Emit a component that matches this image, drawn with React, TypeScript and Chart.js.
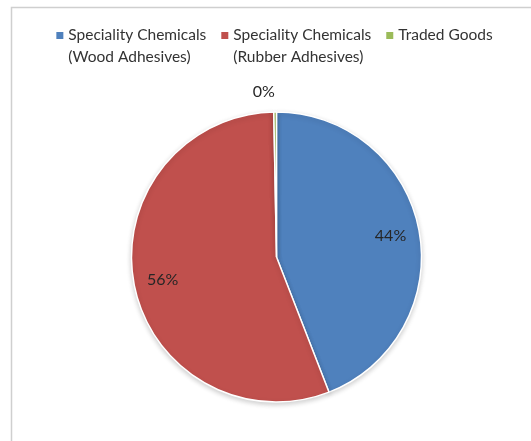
import React, { useEffect, useRef } from "react";
import { Chart, registerables } from "chart.js";

Chart.register(...registerables);

const categories: string[][] = [
  ["Speciality Chemicals", "(Wood Adhesives)"],
  ["Speciality Chemicals", "(Rubber Adhesives)"],
  ["Traded Goods"],
];
const shares: number[] = [44.1, 55.6, 0.3];
const colors: string[] = ["#4F81BD", "#C0504D", "#9BBB59"];

const FONT = "Lato, 'Open Sans', sans-serif";
const TEXT = "#333333";

const framePlugin = {
  id: "frame",
  beforeDraw(chart: any) {
    const ctx = chart.ctx;
    ctx.save();
    ctx.fillStyle = "#ffffff";
    ctx.fillRect(0, 0, chart.width, chart.height);
    ctx.strokeStyle = "#cfcfcf";
    ctx.lineWidth = 1.5;
    ctx.beginPath();
    ctx.moveTo(11.5, chart.height + 5);
    ctx.lineTo(11.5, 7.5);
    ctx.lineTo(chart.width + 5, 7.5);
    ctx.stroke();
    ctx.restore();
  },
};

// Legend drawn from the chart's labels and colours (multi-line items).
const legendPlugin = {
  id: "multiLineLegend",
  afterDraw(chart: any) {
    const ctx = chart.ctx;
    const labels = chart.data.labels as string[][];
    const bg = chart.data.datasets[0].backgroundColor as string[];
    const box = 7;
    const gap = 5;
    const spacing = 15;
    const lineH = 22;
    const firstBaseline = 40;
    ctx.save();
    ctx.font = `15.5px ${FONT}`;
    const widths = labels.map(
      (lines) => box + gap + Math.max(...lines.map((l) => ctx.measureText(l).width))
    );
    const total = widths.reduce((a, b) => a + b, 0) + spacing * (widths.length - 1);
    const centerX = (chart.chartArea.left + chart.chartArea.right) / 2 - 2;
    let x = centerX - total / 2;
    labels.forEach((lines, i) => {
      ctx.fillStyle = bg[i];
      ctx.fillRect(x, firstBaseline - 8, box, box);
      ctx.fillStyle = TEXT;
      ctx.textAlign = "left";
      ctx.textBaseline = "alphabetic";
      lines.forEach((l, j) => ctx.fillText(l, x + box + gap, firstBaseline + j * lineH));
      x += widths[i] + spacing;
    });
    ctx.restore();
  },
};

const shadowPlugin = {
  id: "pieShadow",
  beforeDatasetsDraw(chart: any) {
    const ctx = chart.ctx;
    ctx.save();
    ctx.shadowColor = "rgba(0,0,0,0.18)";
    ctx.shadowBlur = 5;
    ctx.shadowOffsetY = 2;
  },
  afterDatasetsDraw(chart: any) {
    chart.ctx.restore();
  },
};

const labelPlugin = {
  id: "sliceLabels",
  afterDatasetsDraw(chart: any) {
    const ctx = chart.ctx;
    const meta = chart.getDatasetMeta(0);
    const data = chart.data.datasets[0].data as number[];
    const total = data.reduce((a, b) => a + b, 0);
    ctx.save();
    ctx.font = `16px ${FONT}`;
    ctx.fillStyle = "#262626";
    ctx.textBaseline = "middle";
    meta.data.forEach((arc: any, i: number) => {
      const { x, y, startAngle, endAngle, outerRadius } = arc.getProps(
        ["x", "y", "startAngle", "endAngle", "outerRadius"],
        true
      );
      const mid = (startAngle + endAngle) / 2;
      const pct = Math.round((data[i] / total) * 100);
      const text = `${pct}%`;
      if (data[i] / total < 0.03) {
        const r = outerRadius + 20;
        const lx = x + Math.cos(mid) * r;
        const ly = y + Math.sin(mid) * r;
        ctx.textAlign = Math.cos(mid) < 0 ? "right" : "left";
        ctx.fillText(text, lx, ly);
      } else {
        const r = outerRadius * 0.8;
        ctx.textAlign = "center";
        ctx.fillText(text, x + Math.cos(mid) * r, y + Math.sin(mid) * r);
      }
    });
    ctx.restore();
  },
};

export default function App() {
  const ref = useRef<HTMLCanvasElement | null>(null);
  useEffect(() => {
    if (!ref.current) return;
    const chart = new Chart(ref.current, {
      type: "pie",
      data: {
        labels: categories as any,
        datasets: [
          {
            data: shares,
            backgroundColor: colors,
            borderColor: "#ffffff",
            borderWidth: 1.5,
            radius: 145,
          },
        ],
      },
      options: {
        animation: false,
        responsive: false,
        devicePixelRatio: 1,
        layout: { padding: { left: 22, right: 0, top: 80, bottom: 7 } },
        plugins: {
          legend: { display: false },
          tooltip: { enabled: false },
        },
      },
      plugins: [framePlugin, shadowPlugin, labelPlugin, legendPlugin],
    });
    return () => chart.destroy();
  }, []);
  return (
    <div style={{ position: "fixed", left: 0, top: 0, width: 531, height: 441, background: "#fff" }}>
      <canvas ref={ref} width={531} height={441} style={{ display: "block", width: 531, height: 441 }} />
    </div>
  );
}
